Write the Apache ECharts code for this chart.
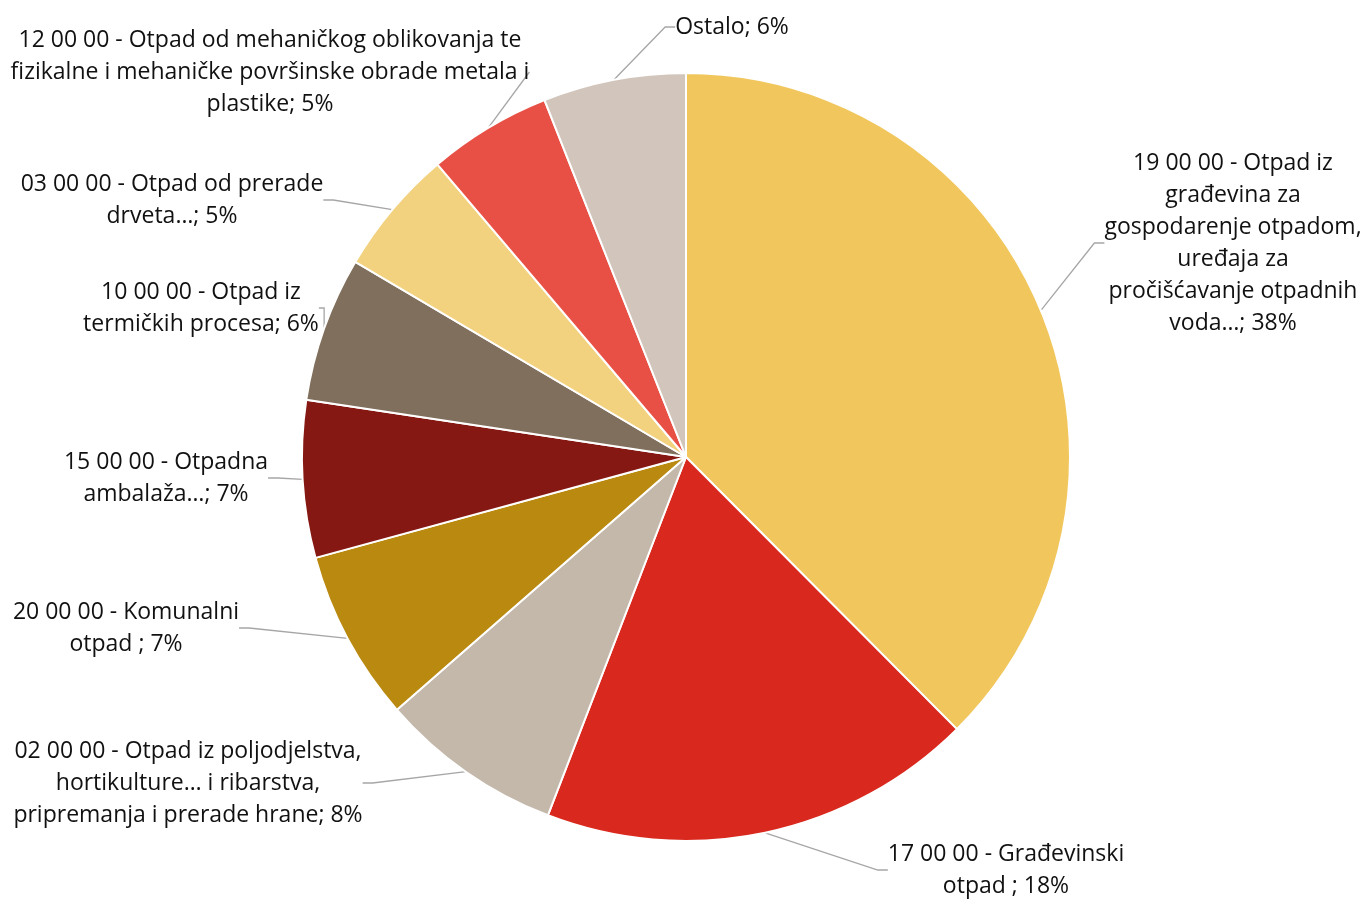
<!DOCTYPE html>
<html>
<head>
<meta charset="utf-8">
<title>Otpad</title>
<script src="https://cdn.jsdelivr.net/npm/echarts@6/dist/echarts.min.js"></script>
<style>
  html, body { margin: 0; padding: 0; background: #fff; }
  #chart { width: 1365px; height: 900px; }
</style>
</head>
<body>
<div id="chart"></div>
<script>
  // categories (clockwise from 12 o'clock)
  var names = [
    '19 00 00 - Otpad iz građevina za gospodarenje otpadom, uređaja za pročišćavanje otpadnih voda…',
    '17 00 00 - Građevinski otpad ',
    '02 00 00 - Otpad iz poljodjelstva, hortikulture… i ribarstva, pripremanja i prerade hrane',
    '20 00 00 - Komunalni otpad ',
    '15 00 00 - Otpadna ambalaža…',
    '10 00 00 - Otpad iz termičkih procesa',
    '03 00 00 - Otpad od prerade drveta…',
    '12 00 00 - Otpad od mehaničkog oblikovanja te fizikalne i mehaničke površinske obrade metala i plastike',
    'Ostalo'
  ];
  // label text as wrapped in the picture
  var labelLines = [
    ['19 00 00 - Otpad iz', 'građevina za', 'gospodarenje otpadom,', 'uređaja za', 'pročišćavanje otpadnih', 'voda…'],
    ['17 00 00 - Građevinski', 'otpad '],
    ['02 00 00 - Otpad iz poljodjelstva,', 'hortikulture… i ribarstva,', 'pripremanja i prerade hrane'],
    ['20 00 00 - Komunalni', 'otpad '],
    ['15 00 00 - Otpadna', 'ambalaža…'],
    ['10 00 00 - Otpad iz', 'termičkih procesa'],
    ['03 00 00 - Otpad od prerade', 'drveta…'],
    ['12 00 00 - Otpad od mehaničkog oblikovanja te', 'fizikalne i mehaničke površinske obrade metala i', 'plastike'],
    ['Ostalo']
  ];
  // share of total, %
  var values = [37.5, 18.3, 7.7, 7.2, 6.6, 6.1, 5.3, 5.2, 6.0];
  var colors = ['#F1C75D', '#D9291E', '#C4B8AA', '#B98910', '#851812', '#806F5C', '#F3D27F', '#E85046', '#D2C6BC'];

  // where the label blocks sit (centre x, top y), as placed in the original
  var labelBoxes = [
    [1233, 147], [1006, 838], [188, 735], [126, 596], [166, 446],
    [201, 276], [172, 168], [270, 24], [732, 11]
  ];

  var chart = echarts.init(document.getElementById('chart'));

  var data = [];
  for (var i = 0; i < names.length; i++) {
    data.push({ name: names[i], value: values[i], itemStyle: { color: colors[i] } });
  }

  chart.setOption({
    animation: false,
    series: [{
      type: 'pie',
      center: [686, 457],
      radius: 384,
      startAngle: 90,
      clockwise: true,
      percentPrecision: 0,
      data: data,
      itemStyle: { borderColor: '#fff', borderWidth: 2 },
      label: {
        show: true,
        position: 'outside',
        overflow: 'none',
        fontFamily: 'Open Sans',
        fontSize: 23,
        lineHeight: 32,
        color: '#111',
        formatter: function (p) {
          var lines = labelLines[p.dataIndex].slice();
          lines[lines.length - 1] += '; ' + p.percent + '%';
          return lines.join('\n');
        }
      },
      labelLine: {
        show: true,
        length: 30,
        length2: 10,
        lineStyle: { color: '#A6A6A6', width: 1.3 }
      },
      labelLayout: function (p) {
        var b = labelBoxes[p.dataIndex];
        return { x: b[0], y: b[1], align: 'center', verticalAlign: 'top' };
      }
    }]
  });
</script>
</body>
</html>
